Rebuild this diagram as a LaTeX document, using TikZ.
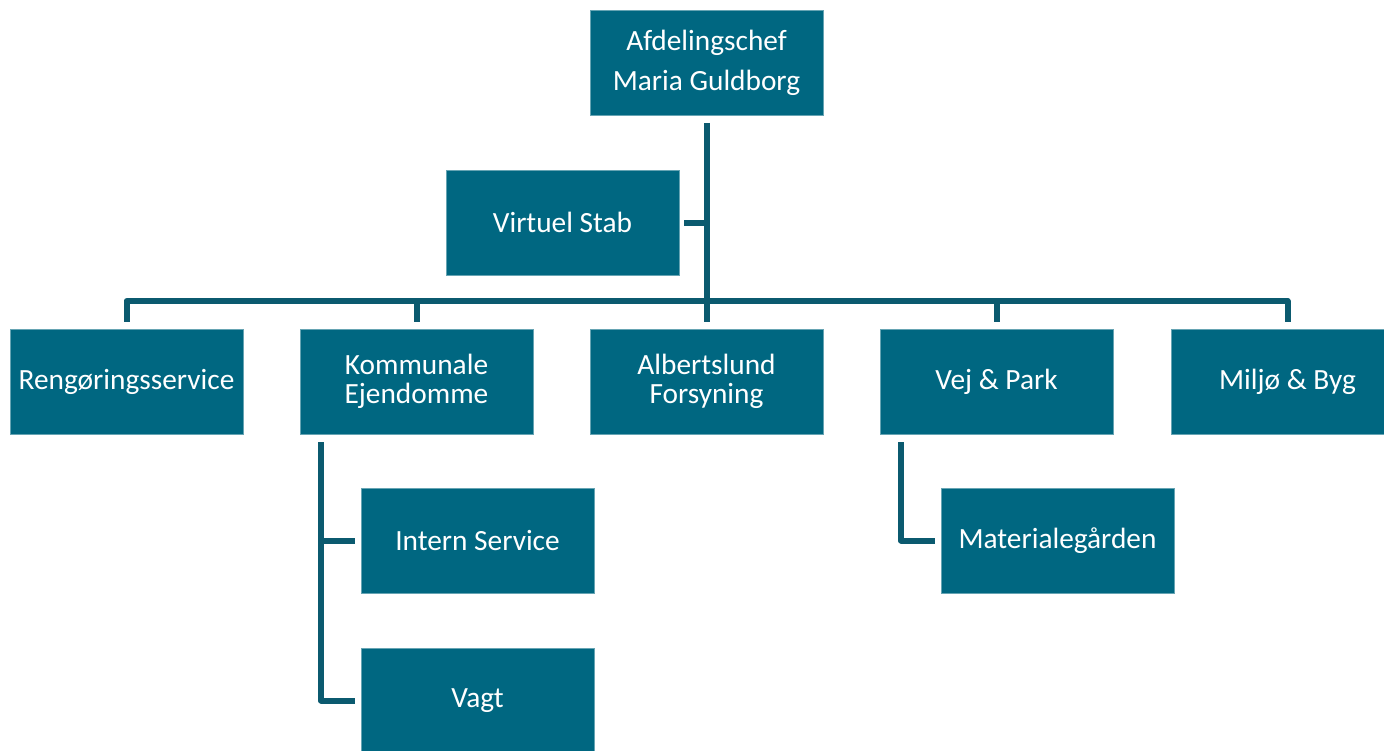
\documentclass[tikz,border=0pt]{standalone}
\usepackage{fontspec}
\setmainfont{Carlito}
\definecolor{boxfill}{HTML}{006781}
\definecolor{linecol}{HTML}{0B5A6F}
\begin{document}
\begin{tikzpicture}[x=0.75pt,y=-0.75pt,
  orgbox/.style={fill=boxfill, draw=boxfill!60!white, line width=0.4pt, text=white,
    minimum width=174.75pt, minimum height=78.75pt, inner sep=0pt, align=center,
    font=\fontsize{22}{21.75}\selectfont},
  conn/.style={draw=linecol, line width=4.5pt, line join=round, line cap=butt}]
\useasboundingbox (0,0) rectangle (1384,750);
\node[orgbox, font=\fontsize{22}{30}\selectfont] (top) at (706.5,63) {Afdelingschef\\Maria Guldborg};
\node[orgbox] (stab) at (562.5,222.5) {Virtuel Stab};
\node[orgbox] (reng) at (126.5,381.5) {Rengøringsservice};
\node[orgbox] (komm) at (416.5,381.5) {Kommunale\\Ejendomme};
\node[orgbox] (albs) at (706.5,381.5) {Albertslund\\Forsyning};
\node[orgbox] (vejp) at (996.5,381.5) {Vej \& Park};
\node[orgbox] (milj) at (1287.5,381.5) {Miljø \& Byg};
\node[orgbox] (intr) at (477.5,540.5) {Intern Service};
\node[orgbox] (vagt) at (477.5,700.5) {Vagt};
\node[orgbox] (matr) at (1057.5,540.5) {Materialegården};
\coordinate (bus) at (0,301);
\coordinate (kx) at (321,442);
\coordinate (vx) at (901,442);
% trunk
\draw[conn] ([yshift=-5.25pt]top.south) -- (top.south |- bus);
\draw[conn] ([xshift=3.75pt]stab.east) -- (stab.east -| top.south);
% bus with drops
\draw[conn] ([yshift=5.25pt]reng.north) -- (reng.north |- bus) -- (milj.north |- bus) -- ([yshift=5.25pt]milj.north);
\draw[conn] (komm.north |- bus) -- ([yshift=5.25pt]komm.north);
\draw[conn] (albs.north |- bus) -- ([yshift=5.25pt]albs.north);
\draw[conn] (vejp.north |- bus) -- ([yshift=5.25pt]vejp.north);
% sub-branches
\draw[conn] (kx) -- (kx |- vagt.west) -- ([xshift=-4.5pt]vagt.west);
\draw[conn] (kx |- intr.west) -- ([xshift=-4.5pt]intr.west);
\draw[conn] (vx) -- (vx |- matr.west) -- ([xshift=-4.5pt]matr.west);
\end{tikzpicture}
\end{document}
